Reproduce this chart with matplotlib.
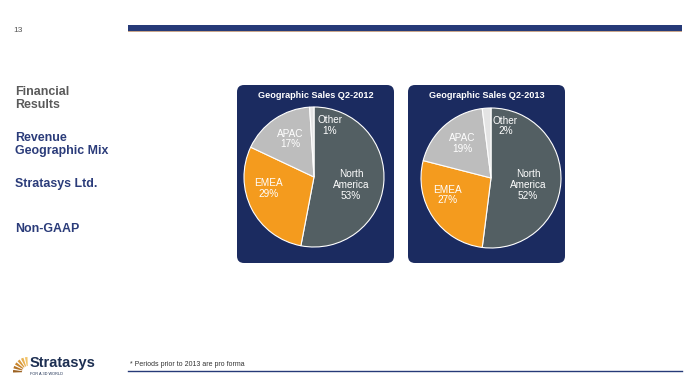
import matplotlib.pyplot as plt
from matplotlib.patches import FancyBboxPatch, Rectangle, Wedge
import numpy as np

plt.rcParams['font.family'] = ['Liberation Sans', 'DejaVu Sans']

# data
regions = ['North\nAmerica', 'EMEA', 'APAC', 'Other']
sales_2012 = [53, 29, 17, 1]
sales_2013 = [52, 27, 19, 2]
titles = ['Geographic Sales Q2-2012', 'Geographic Sales Q2-2013']
slice_colors = ['#535f63', '#f49b1e', '#bdbdbd', '#e4e4e4']

side_menu = [('Financial\nResults', '#5a5a5a'),
             ('Revenue\nGeographic Mix', '#2b3c7a'),
             ('Stratasys Ltd.', '#2b3c7a'),
             ('Non-GAAP', '#2b3c7a')]

W, H = 693, 388
fig = plt.figure(figsize=(W / 100, H / 100), dpi=100)
ax = fig.add_axes([0, 0, 1, 1])


def Y(y):
    # image row -> axis y
    return H - y


# header
ax.text(13, Y(30), '13', fontsize=6, color='#555555', va='center')
ax.add_patch(Rectangle((128, Y(31)), 554, 6, color='#263a78', lw=0))
ax.add_patch(Rectangle((128, Y(32)), 554, 1.2, color='#c9a68b', lw=0))

# left menu
menu_y = [86, 132, 178, 223]
for (txt, col), yy in zip(side_menu, menu_y):
    ax.text(15, Y(yy), txt, fontsize=8.9, fontweight='bold', color=col,
            va='top', linespacing=1.12)

# panels with pies
panels = [(237, 85, 157, 178, (314, 177)), (408, 85, 157, 178, (491, 178))]
radius = 70
label_r = [0.54, 0.67, 0.64, 0.77]
label_shift = [-7, -13, -2, -19]

for (px, py, pw, ph, (cx, cy)), vals, title in zip(panels, [sales_2012, sales_2013], titles):
    ax.add_patch(FancyBboxPatch((px, Y(py + ph)), pw, ph,
                                boxstyle='round,pad=0,rounding_size=7',
                                fc='#1b2b60', ec='none'))
    ax.text(px + pw / 2, Y(py + 10), title, fontsize=6.6, fontweight='bold',
            color='white', ha='center', va='center')
    wedges, _ = ax.pie(vals, colors=slice_colors, startangle=90, counterclock=False,
                       center=(cx, Y(cy)), radius=radius,
                       wedgeprops=dict(edgecolor='white', linewidth=0.8))
    for w, name, v, lr, sh in zip(wedges, regions, vals, label_r, label_shift):
        mid = np.deg2rad((w.theta1 + w.theta2) / 2 + sh)
        tx = cx + lr * radius * np.cos(mid)
        ty = Y(cy) + lr * radius * np.sin(mid)
        ax.text(tx, ty, f'{name}\n{v}%', fontsize=7.2, color='white',
                ha='center', va='center', linespacing=1.1)

# footer
ax.text(130, Y(365), '* Periods prior to 2013 are pro forma', fontsize=5,
        color='#333333', va='center')
ax.plot([128, 682], [Y(370.5), Y(370.5)], color='#263a78', lw=1)

# logo
fan_cols = ['#f2c46a', '#e8b050', '#d99a3c', '#c8862e', '#b57426', '#9c6222']
for i, c in enumerate(fan_cols):
    a0 = 92 + i * 16
    ax.add_patch(Wedge((28, Y(372)), 15, a0, a0 + 10, width=9, fc=c, ec='none'))
ax.text(30, Y(363), 'Stratasys', fontsize=10.5, fontweight='bold', color='#1d2f52',
        va='center')
ax.text(30.5, Y(374), 'FOR A 3D WORLD', fontsize=2.8, color='#1d2f52', va='center')

ax.set_xlim(0, W)
ax.set_ylim(0, H)
ax.set_aspect('auto')
ax.axis('off')

fig.savefig('out.png', dpi=100)
